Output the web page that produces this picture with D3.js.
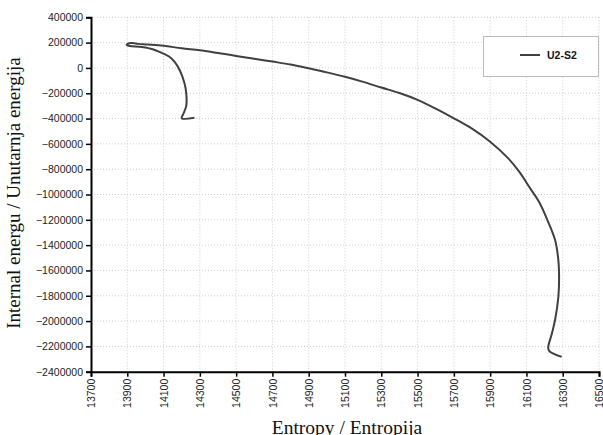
<!DOCTYPE html>
<html>
<head>
<meta charset="utf-8">
<script src="https://cdn.jsdelivr.net/npm/d3@7"></script>
<style>
  body { margin: 0; background: #fff; }
  svg { display: block; }
</style>
</head>
<body>
<svg id="viz"></svg>
<script>
// Data: entropy (x) against internal energy (y), in path order.
const entropy = [14270, 14200, 14210, 14225, 14225, 14215, 14190, 14160, 14130, 14080,
  14040, 13980, 13900, 13897, 13910, 13930, 13960, 14010, 14100, 14200,
  14300, 14400, 14500, 14600, 14700, 14800, 14900, 15000, 15100, 15200,
  15300, 15400, 15500, 15600, 15700, 15800, 15900, 16000, 16060, 16120,
  16170, 16215, 16258, 16276, 16280, 16276, 16258, 16240, 16220, 16230, 16294];
const energy = [-393000, -398000, -360000, -300000, -200000, -120000, -20000, 50000, 90000, 125000,
  148000, 165000, 178000, 185000, 195000, 197000, 190000, 185000, 175000, 155000,
  140000, 118000, 95000, 72000, 50000, 27000, -3000, -35000, -70000, -110000,
  -155000, -198000, -252000, -322000, -398000, -480000, -583000, -715000, -820000, -950000,
  -1060000, -1200000, -1360000, -1520000, -1660000, -1810000, -1990000, -2100000, -2215000, -2242000, -2282000];
const xTicks = d3.range(13700, 16501, 200);
const yTicks = d3.range(-2400000, 400001, 200000);
const seriesName = "U2-S2";

const width = 603, height = 435;
const margin = {left: 91, top: 17.3, right: 4, bottom: 63.3};

const svg = d3.select("#viz").attr("width", width).attr("height", height);

const x = d3.scaleLinear().domain([13700, 16500]).range([margin.left, width - margin.right]);
const y = d3.scaleLinear().domain([-2400000, 400000]).range([height - margin.bottom, margin.top]);

// dotted gridlines
svg.append("g").selectAll("line").data(xTicks.slice(1)).join("line")
  .attr("x1", d => x(d)).attr("x2", d => x(d))
  .attr("y1", y(400000)).attr("y2", y(-2400000))
  .attr("stroke", "#cfcfcf").attr("stroke-dasharray", "1,2");
svg.append("g").selectAll("line").data(yTicks.slice(1)).join("line")
  .attr("x1", x(13700)).attr("x2", x(16500))
  .attr("y1", d => y(d)).attr("y2", d => y(d))
  .attr("stroke", "#cfcfcf").attr("stroke-dasharray", "1,2");

// axes
const yAxis = svg.append("g")
  .attr("transform", `translate(${margin.left},0)`)
  .call(d3.axisLeft(y).tickValues(yTicks).tickFormat(d3.format("d")).tickSize(5).tickPadding(3));
const xAxis = svg.append("g")
  .attr("transform", `translate(0,${y(-2400000)})`)
  .call(d3.axisBottom(x).tickValues(xTicks).tickFormat(d3.format("d")).tickSize(5));

[xAxis, yAxis].forEach(a => {
  a.select(".domain").attr("stroke", "#000").attr("stroke-width", 2);
  a.selectAll(".tick line").attr("stroke", "#000").attr("stroke-width", 1.5);
  a.selectAll("text").attr("fill", "#222")
    .style("font-family", "'Liberation Sans', Arial, sans-serif").style("font-size", "10.5px");
});

xAxis.selectAll("text")
  .attr("transform", "rotate(-90)")
  .attr("text-anchor", "end")
  .attr("x", -7).attr("y", 0).attr("dy", "0.35em");

// the curve
const pts = entropy.map((e, i) => [e, energy[i]]);
svg.append("path")
  .datum(pts)
  .attr("fill", "none")
  .attr("stroke", "#404040")
  .attr("stroke-width", 2)
  .attr("stroke-linejoin", "round")
  .attr("d", d3.line().curve(d3.curveCatmullRom).x(d => x(d[0])).y(d => y(d[1])));

// legend
const leg = svg.append("g");
leg.append("rect").attr("x", 483.5).attr("y", 36.5).attr("width", 115).attr("height", 40)
  .attr("fill", "#fff").attr("stroke", "#bbb");
leg.append("line").attr("x1", 520).attr("x2", 540).attr("y1", 55).attr("y2", 55)
  .attr("stroke", "#404040").attr("stroke-width", 2);
leg.append("text").attr("x", 547).attr("y", 59).text(seriesName)
  .attr("fill", "#111").style("font-weight", "bold")
  .style("font-family", "'Liberation Sans', Arial, sans-serif").style("font-size", "10.5px");

// axis titles
svg.append("text")
  .attr("transform", `translate(20,193) rotate(-90)`)
  .attr("text-anchor", "middle")
  .style("font-family", "'Liberation Serif', 'Times New Roman', serif").style("font-size", "19px")
  .attr("fill", "#111")
  .text("Internal energu / Unutarnja energija");
svg.append("text")
  .attr("x", 347).attr("y", 433.5)
  .attr("text-anchor", "middle")
  .style("font-family", "'Liberation Serif', 'Times New Roman', serif").style("font-size", "19.5px")
  .attr("fill", "#111")
  .text("Entropy / Entropija");
</script>
</body>
</html>
